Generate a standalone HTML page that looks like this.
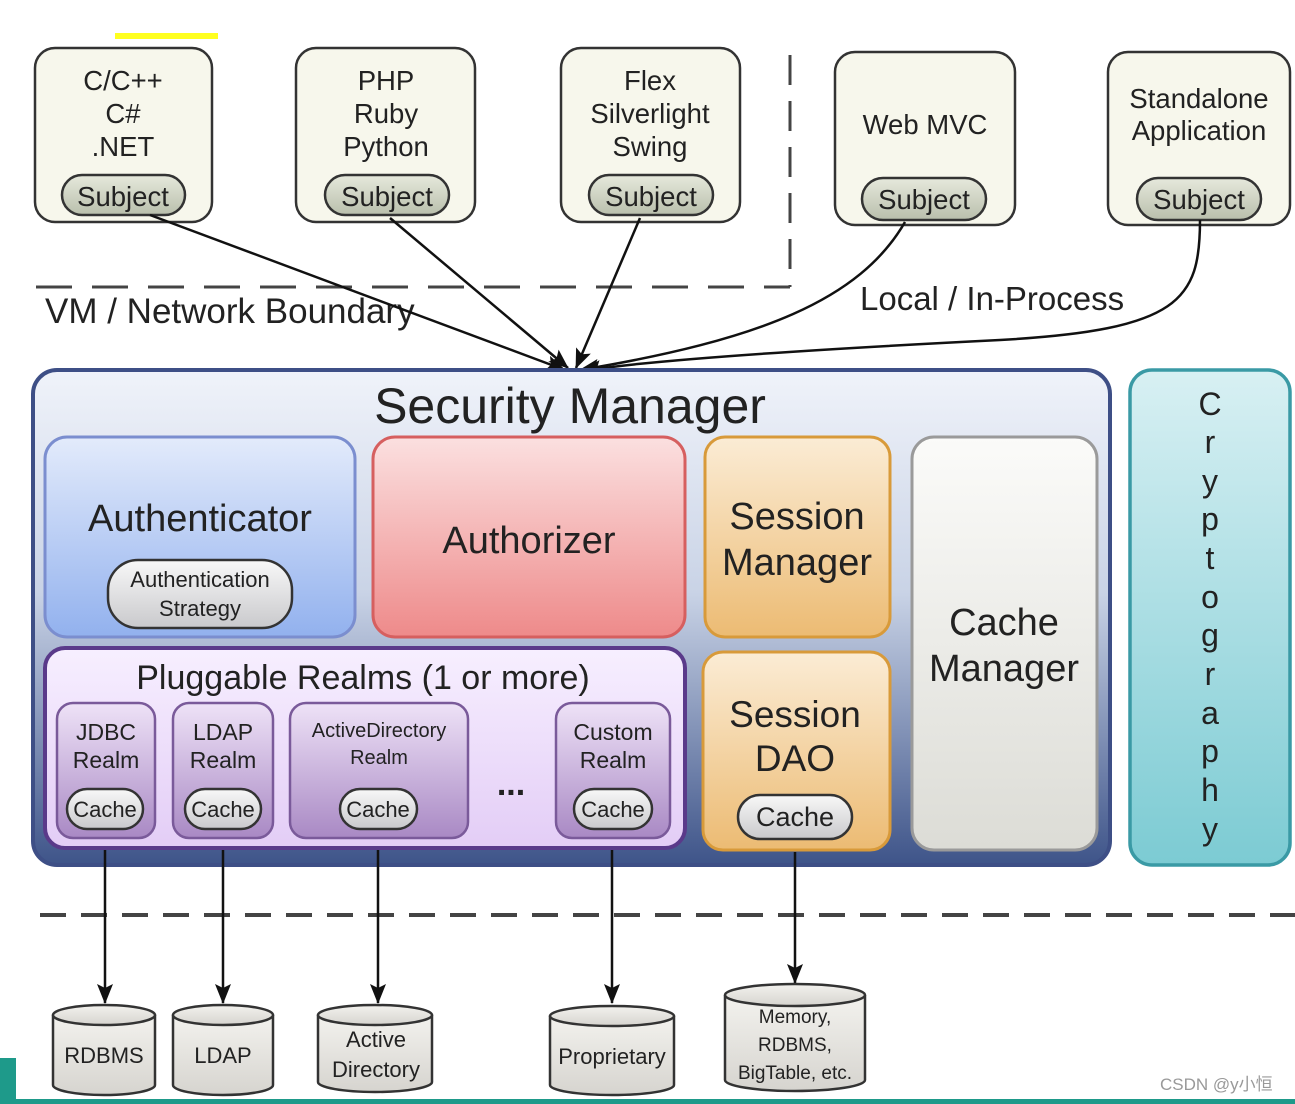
<!DOCTYPE html>
<html><head><meta charset="utf-8"><style>
html,body{margin:0;padding:0;background:#fff;width:1295px;height:1104px;overflow:hidden}
svg text{font-family:"Liberation Sans",Arial,sans-serif;fill:#222}
</style></head><body>
<svg width="1295" height="1104" viewBox="0 0 1295 1104" xmlns="http://www.w3.org/2000/svg">
<defs>
<linearGradient id="sm" x1="0" y1="0" x2="0" y2="1"><stop offset="0" stop-color="#f0f3fa"/><stop offset="0.45" stop-color="#c9d3e6"/><stop offset="1" stop-color="#3e5489"/></linearGradient>
<linearGradient id="au" x1="0" y1="0" x2="0" y2="1"><stop offset="0" stop-color="#e3ebfb"/><stop offset="1" stop-color="#92b1ee"/></linearGradient>
<linearGradient id="az" x1="0" y1="0" x2="0" y2="1"><stop offset="0" stop-color="#fbe0e0"/><stop offset="1" stop-color="#ee8a8a"/></linearGradient>
<linearGradient id="or" x1="0" y1="0" x2="0" y2="1"><stop offset="0" stop-color="#fbecd5"/><stop offset="1" stop-color="#ecbb73"/></linearGradient>
<linearGradient id="gr" x1="0" y1="0" x2="0" y2="1"><stop offset="0" stop-color="#fbfbf9"/><stop offset="1" stop-color="#dcdcd6"/></linearGradient>
<linearGradient id="pu" x1="0" y1="0" x2="0" y2="1"><stop offset="0" stop-color="#f7efff"/><stop offset="1" stop-color="#e3cdf6"/></linearGradient>
<linearGradient id="rl" x1="0" y1="0" x2="0" y2="1"><stop offset="0" stop-color="#eee2f7"/><stop offset="1" stop-color="#a989c4"/></linearGradient>
<linearGradient id="cy" x1="0" y1="0" x2="0" y2="1"><stop offset="0" stop-color="#d8f0f3"/><stop offset="1" stop-color="#7ccbd3"/></linearGradient>
<linearGradient id="pill" x1="0" y1="0" x2="0" y2="1"><stop offset="0" stop-color="#f8f8f8"/><stop offset="1" stop-color="#c9c9cc"/></linearGradient>
<linearGradient id="subj" x1="0" y1="0" x2="0" y2="1"><stop offset="0" stop-color="#e6e9dc"/><stop offset="1" stop-color="#b9bfac"/></linearGradient>
<linearGradient id="cyl" x1="0" y1="0" x2="0" y2="1"><stop offset="0" stop-color="#f3f2ee"/><stop offset="1" stop-color="#d6d4cf"/></linearGradient>
<marker id="ar" markerWidth="20" markerHeight="16" refX="19" refY="8" orient="auto" markerUnits="userSpaceOnUse"><path d="M0,0 L20,8 L0,16 L4,8 Z" fill="#111"/></marker>
</defs>
<rect x="115" y="33" width="103" height="6" fill="#ffff20"/>
<g stroke="#333" stroke-width="2.5" fill="#f7f7ec">
<rect x="35" y="48" width="177" height="174" rx="20"/>
<rect x="296" y="48" width="179" height="174" rx="20"/>
<rect x="561" y="48" width="179" height="174" rx="20"/>
<rect x="835" y="52" width="180" height="173" rx="20"/>
<rect x="1108" y="52" width="182" height="173" rx="20"/>
</g>
<g stroke="#333" stroke-width="2.5" fill="url(#subj)">
<rect x="62" y="175" width="123" height="40" rx="20"/>
<rect x="325" y="175" width="124" height="40" rx="20"/>
<rect x="589" y="175" width="124" height="40" rx="20"/>
<rect x="862" y="178" width="124" height="42" rx="21"/>
<rect x="1137" y="178" width="124" height="42" rx="21"/>
</g>
<g font-size="27.5" text-anchor="middle">
<text x="123" y="90">C/C++</text><text x="123" y="123">C#</text><text x="123" y="156">.NET</text>
<text x="386" y="90">PHP</text><text x="386" y="123">Ruby</text><text x="386" y="156">Python</text>
<text x="650" y="90">Flex</text><text x="650" y="123">Silverlight</text><text x="650" y="156">Swing</text>
<text x="925" y="134">Web MVC</text>
<text x="1199" y="108">Standalone</text><text x="1199" y="140">Application</text>
<text x="123" y="206">Subject</text><text x="387" y="206">Subject</text><text x="651" y="206">Subject</text>
<text x="924" y="209">Subject</text><text x="1199" y="209">Subject</text>
</g>
<line x1="36" y1="287" x2="790" y2="287" stroke="#444" stroke-width="3" stroke-dasharray="36,20"/>
<line x1="790" y1="55" x2="790" y2="287" stroke="#444" stroke-width="3" stroke-dasharray="30,16"/>
<text x="45" y="323" font-size="35">VM / Network Boundary</text>
<text x="860" y="310" font-size="33">Local / In-Process</text>
<g stroke="#111" stroke-width="2.5" fill="none" marker-end="url(#ar)">
<path d="M150,215 L565,370"/>
<path d="M390,218 L568,368"/>
<path d="M640,218 L576,368"/>
<path d="M905,222 C860,300 760,340 580,370"/>
<path d="M1200,220 C1200,300 1180,330 1000,340 C800,350 650,360 582,371"/>
</g>
<rect x="33" y="370" width="1077" height="495" rx="24" fill="url(#sm)" stroke="#3e4f86" stroke-width="4"/>
<text x="570" y="423" font-size="50" text-anchor="middle">Security Manager</text>
<rect x="45" y="437" width="310" height="200" rx="22" fill="url(#au)" stroke="#7b8ecf" stroke-width="3"/>
<text x="200" y="531" font-size="38" text-anchor="middle">Authenticator</text>
<rect x="108" y="560" width="184" height="68" rx="30" fill="url(#pill)" stroke="#333" stroke-width="2.5"/>
<text x="200" y="587" font-size="22" text-anchor="middle">Authentication</text>
<text x="200" y="616" font-size="22" text-anchor="middle">Strategy</text>
<rect x="373" y="437" width="312" height="200" rx="22" fill="url(#az)" stroke="#d65f5f" stroke-width="3"/>
<text x="529" y="553" font-size="38" text-anchor="middle">Authorizer</text>
<rect x="705" y="437" width="185" height="200" rx="20" fill="url(#or)" stroke="#d89a3a" stroke-width="3"/>
<text x="797" y="529" font-size="38" text-anchor="middle">Session</text>
<text x="797" y="575" font-size="38" text-anchor="middle">Manager</text>
<rect x="703" y="652" width="187" height="198" rx="20" fill="url(#or)" stroke="#d89a3a" stroke-width="3"/>
<text x="795" y="727" font-size="37" text-anchor="middle">Session</text>
<text x="795" y="771" font-size="37" text-anchor="middle">DAO</text>
<rect x="738" y="795" width="114" height="44" rx="22" fill="url(#pill)" stroke="#333" stroke-width="2.5"/>
<text x="795" y="826" font-size="27" text-anchor="middle">Cache</text>
<rect x="912" y="437" width="185" height="413" rx="22" fill="url(#gr)" stroke="#9a9a9a" stroke-width="3"/>
<text x="1004" y="635" font-size="38" text-anchor="middle">Cache</text>
<text x="1004" y="681" font-size="38" text-anchor="middle">Manager</text>
<rect x="45" y="648" width="640" height="200" rx="20" fill="url(#pu)" stroke="#5a3a8a" stroke-width="4"/>
<text x="363" y="689" font-size="34" text-anchor="middle">Pluggable Realms (1 or more)</text>
<g fill="url(#rl)" stroke="#7a5a9a" stroke-width="2.5">
<rect x="57" y="703" width="98" height="135" rx="16"/>
<rect x="173" y="703" width="100" height="135" rx="16"/>
<rect x="290" y="703" width="178" height="135" rx="16"/>
<rect x="556" y="703" width="114" height="135" rx="16"/>
</g>
<g font-size="23" text-anchor="middle">
<text x="106" y="740">JDBC</text><text x="106" y="768">Realm</text>
<text x="223" y="740">LDAP</text><text x="223" y="768">Realm</text>
<text x="379" y="737" font-size="20">ActiveDirectory</text><text x="379" y="764" font-size="20">Realm</text>
<text x="613" y="740">Custom</text><text x="613" y="768">Realm</text>
</g>
<g fill="url(#pill)" stroke="#333" stroke-width="2.5">
<rect x="67" y="789" width="76" height="40" rx="20"/>
<rect x="185" y="789" width="76" height="40" rx="20"/>
<rect x="340" y="789" width="77" height="40" rx="20"/>
<rect x="574" y="789" width="78" height="40" rx="20"/>
</g>
<g font-size="22" text-anchor="middle">
<text x="105" y="817">Cache</text><text x="223" y="817">Cache</text><text x="378" y="817">Cache</text><text x="613" y="817">Cache</text>
</g>
<text x="511" y="795" font-size="34" text-anchor="middle" font-weight="bold">...</text>
<rect x="1130" y="370" width="160" height="495" rx="22" fill="url(#cy)" stroke="#3a9aa5" stroke-width="3.5"/>
<g font-size="32" text-anchor="middle">
<text x="1210" y="415">C</text><text x="1210" y="453">r</text><text x="1210" y="492">y</text><text x="1210" y="530">p</text><text x="1210" y="569">t</text><text x="1210" y="608">o</text><text x="1210" y="646">g</text><text x="1210" y="685">r</text><text x="1210" y="724">a</text><text x="1210" y="762">p</text><text x="1210" y="801">h</text><text x="1210" y="840">y</text>
</g>
<line x1="40" y1="915" x2="1295" y2="915" stroke="#444" stroke-width="4" stroke-dasharray="26,15"/>
<g stroke="#111" stroke-width="2.5" marker-end="url(#ar)">
<line x1="105" y1="850" x2="105" y2="1003"/>
<line x1="223" y1="850" x2="223" y2="1003"/>
<line x1="378" y1="850" x2="378" y2="1003"/>
<line x1="612" y1="850" x2="612" y2="1003"/>
<line x1="795" y1="852" x2="795" y2="983"/>
</g>
<g stroke="#333" stroke-width="2.5" fill="url(#cyl)">
<path d="M53,1015 L53,1085 A51,10 0 0 0 155,1085 L155,1015"/><ellipse cx="104" cy="1015" rx="51" ry="10"/>
<path d="M173,1015 L173,1085 A50,10 0 0 0 273,1085 L273,1015"/><ellipse cx="223" cy="1015" rx="50" ry="10"/>
<path d="M318,1015 L318,1082 A57,10 0 0 0 432,1082 L432,1015"/><ellipse cx="375" cy="1015" rx="57" ry="10"/>
<path d="M550,1016 L550,1085 A62,10 0 0 0 674,1085 L674,1016"/><ellipse cx="612" cy="1016" rx="62" ry="10"/>
<path d="M725,995 L725,1080 A70,11 0 0 0 865,1080 L865,995"/><ellipse cx="795" cy="995" rx="70" ry="11"/>
</g>
<g font-size="22" text-anchor="middle">
<text x="104" y="1063">RDBMS</text><text x="223" y="1063">LDAP</text>
<text x="376" y="1047">Active</text><text x="376" y="1077">Directory</text>
<text x="612" y="1064">Proprietary</text>
<text x="795" y="1023" font-size="19">Memory,</text><text x="795" y="1051" font-size="19">RDBMS,</text><text x="795" y="1079" font-size="19">BigTable, etc.</text>
</g>
<text x="1160" y="1090" font-size="17" style="fill:#999">CSDN @y小恒</text>
<rect x="0" y="1058" width="16" height="46" fill="#1e9a8a"/>
<rect x="0" y="1099" width="1295" height="5" fill="#1e9a8a"/>
</svg>
</body></html>
